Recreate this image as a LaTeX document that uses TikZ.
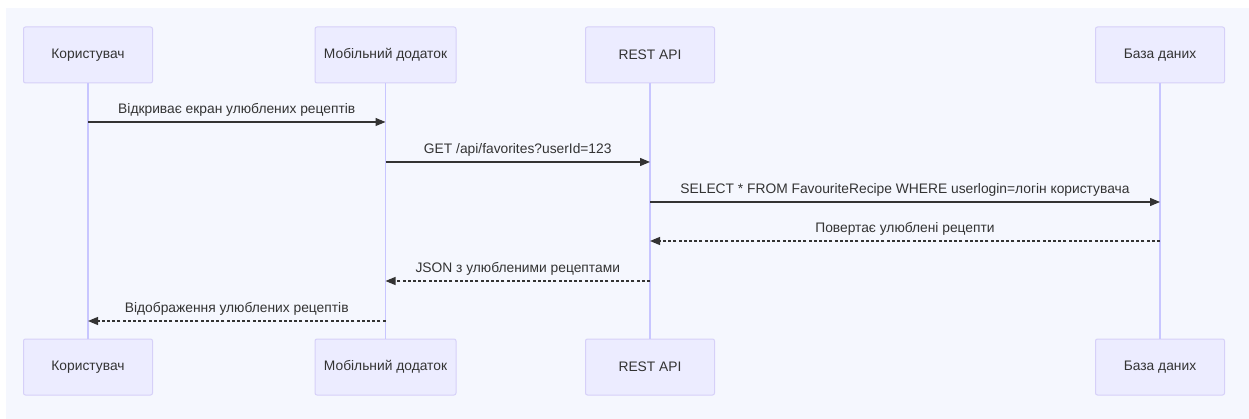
\documentclass[tikz,border=0pt]{standalone}
\usepackage{fontspec}
\setmainfont{Liberation Sans}
\usetikzlibrary{arrows.meta}
\definecolor{bgc}{RGB}{245,247,254}
\definecolor{actfill}{RGB}{236,236,255}
\definecolor{actline}{RGB}{214,208,248}
\definecolor{lifec}{RGB}{200,198,255}
\definecolor{txt}{RGB}{51,51,51}
\definecolor{msgc}{RGB}{51,51,51}
\tikzset{
  actor/.style={draw=actline, fill=actfill, rounded corners=2pt, line width=1pt,
    minimum width=129pt, minimum height=56pt, inner sep=0pt,
    font=\fontsize{13.8}{16}\selectfont, text=txt},
  lifeline/.style={draw=lifec, line width=1.5pt},
  msg/.style={draw=msgc, line width=1.2pt, -{Triangle[length=10pt,width=8pt]}},
  reply/.style={msg, dash pattern=on 3pt off 2.2pt},
  lbl/.style={font=\fontsize{13.8}{16}\selectfont, text=txt, inner sep=0pt,
    anchor=base, yshift=8.5pt}
}
\begin{document}
\begin{tikzpicture}[x=1pt,y=-1pt]
\useasboundingbox (0,0) rectangle (1249,419);
\fill[bgc] (6,8) rectangle (1249,419);
% participants, top row
\node[actor] (u1) at (88,55) {Користувач};
\node[actor, minimum width=141pt] (m1) at (385.5,55) {Мобільний додаток};
\node[actor] (r1) at (650,55) {REST API};
\node[actor] (d1) at (1160,55) {База даних};
% participants, bottom row
\node[actor] (u2) at (88,367) {Користувач};
\node[actor, minimum width=141pt] (m2) at (385.5,367) {Мобільний додаток};
\node[actor] (r2) at (650,367) {REST API};
\node[actor] (d2) at (1160,367) {База даних};
% lifelines
\draw[lifeline] (u1) -- (u2);
\draw[lifeline] (m1) -- (m2);
\draw[lifeline] (r1) -- (r2);
\draw[lifeline] (d1) -- (d2);
% message rows
\coordinate (y1) at (0,122);
\coordinate (y2) at (0,162);
\coordinate (y3) at (0,202);
\coordinate (y4) at (0,241);
\coordinate (y5) at (0,281);
\coordinate (y6) at (0,321);
% requests
\draw[msg] (u1|-y1) -- node[lbl] {Відкриває екран улюблених рецептів} (m1|-y1);
\draw[msg] (m1|-y2) -- node[lbl] {GET /api/favorites?userId=123} (r1|-y2);
\draw[msg] (r1|-y3) -- node[lbl] {SELECT * FROM FavouriteRecipe WHERE userlogin=логін користувача} (d1|-y3);
% replies
\draw[reply] (d1|-y4) -- node[lbl] {Повертає улюблені рецепти} (r1|-y4);
\draw[reply] (r1|-y5) -- node[lbl] {JSON з улюбленими рецептами} (m1|-y5);
\draw[reply] (m1|-y6) -- node[lbl] {Відображення улюблених рецептів} (u1|-y6);
\end{tikzpicture}
\end{document}
